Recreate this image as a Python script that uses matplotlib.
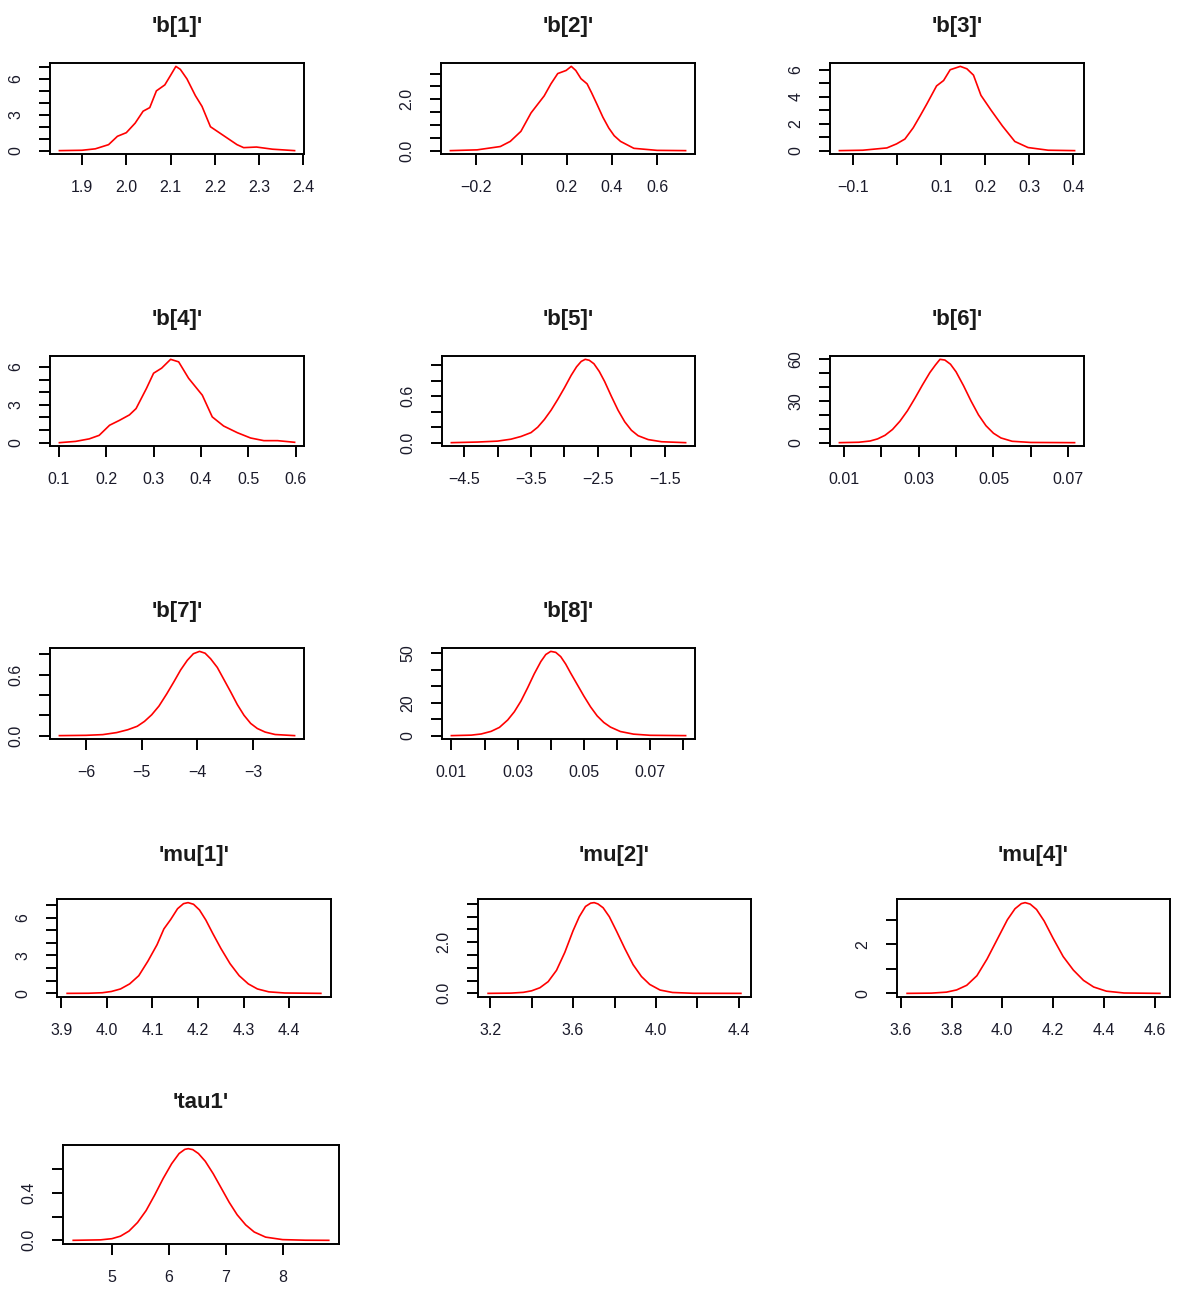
import matplotlib.pyplot as plt
from matplotlib.ticker import FixedLocator, FixedFormatter

plt.rcParams['font.family'] = ['Liberation Sans', 'DejaVu Sans']

M = '\u2212'  # minus sign used on the axis labels

# posterior density curves (x, y)
b1_x = [1.849, 1.90, 1.93, 1.96, 1.98, 2.00, 2.02, 2.038, 2.053, 2.068, 2.087, 2.10, 2.112,
        2.122, 2.137, 2.156, 2.171, 2.19, 2.21, 2.23, 2.25, 2.265, 2.294, 2.33, 2.38]
b1_y = [0.0, 0.03, 0.15, 0.5, 1.2, 1.5, 2.3, 3.3, 3.6, 5.0, 5.5, 6.3, 7.05,
        6.8, 6.0, 4.6, 3.7, 2.0, 1.5, 1.0, 0.5, 0.25, 0.3, 0.12, 0.0]

b2_x = [-0.315, -0.197, -0.094, -0.05, -0.003, 0.042, 0.10, 0.13, 0.16, 0.197, 0.22, 0.24,
        0.263, 0.29, 0.31, 0.334, 0.36, 0.386, 0.41, 0.438, 0.497, 0.6, 0.726]
b2_y = [0.0, 0.03, 0.16, 0.36, 0.75, 1.47, 2.13, 2.6, 3.0, 3.12, 3.28, 3.12,
        2.8, 2.6, 2.25, 1.8, 1.3, 0.88, 0.58, 0.36, 0.09, 0.01, 0.0]

b3_x = [-0.132, -0.079, -0.024, -0.002, 0.017, 0.036, 0.052, 0.067, 0.089, 0.105, 0.12, 0.143,
        0.158, 0.173, 0.19, 0.213, 0.239, 0.267, 0.297, 0.343, 0.403]
b3_y = [0.0, 0.03, 0.2, 0.5, 0.86, 1.7, 2.6, 3.47, 4.8, 5.2, 6.0, 6.25,
        6.07, 5.6, 4.1, 3.0, 1.82, 0.68, 0.23, 0.03, 0.0]

b4_x = [0.101, 0.135, 0.164, 0.185, 0.207, 0.228, 0.249, 0.263, 0.285, 0.30, 0.317, 0.336,
        0.353, 0.374, 0.403, 0.424, 0.448, 0.477, 0.505, 0.533, 0.562, 0.598]
b4_y = [0.0, 0.1, 0.3, 0.58, 1.38, 1.77, 2.2, 2.7, 4.3, 5.5, 5.9, 6.6,
        6.4, 5.1, 3.76, 2.04, 1.32, 0.79, 0.37, 0.16, 0.16, 0.03]

b5_x = [-4.69, -4.3, -4.0, -3.8, -3.65, -3.5, -3.4, -3.3, -3.2, -3.1, -3.0, -2.9, -2.82,
        -2.75, -2.69, -2.63, -2.56, -2.48, -2.4, -2.3, -2.2, -2.1, -2.0, -1.9, -1.75,
        -1.55, -1.19]
b5_y = [0.0, 0.008, 0.02, 0.045, 0.08, 0.13, 0.2, 0.3, 0.42, 0.56, 0.71, 0.87, 0.98,
        1.05, 1.077, 1.065, 1.02, 0.92, 0.79, 0.6, 0.42, 0.27, 0.16, 0.09, 0.04,
        0.012, 0.0]

b6_x = [0.0088, 0.014, 0.017, 0.019, 0.021, 0.023, 0.025, 0.027, 0.029, 0.031, 0.033,
        0.0345, 0.0357, 0.037, 0.0385, 0.040, 0.042, 0.044, 0.046, 0.048, 0.050, 0.052,
        0.055, 0.060, 0.0717]
b6_y = [0.0, 0.3, 1.2, 2.7, 5.3, 9.5, 15.5, 23.0, 32.0, 41.5, 50.5,
        56.0, 60.0, 59.5, 56.5, 51.0, 41.0, 30.0, 20.0, 12.2, 6.8, 3.4,
        1.0, 0.15, 0.0]

b7_x = [-6.48, -6.0, -5.7, -5.45, -5.25, -5.08, -4.95, -4.82, -4.69, -4.55, -4.42, -4.3,
        -4.18, -4.07, -3.96, -3.86, -3.76, -3.64, -3.52, -3.40, -3.28, -3.16, -3.04,
        -2.92, -2.78, -2.6, -2.25]
b7_y = [0.0, 0.003, 0.01, 0.03, 0.058, 0.092, 0.14, 0.205, 0.29, 0.41, 0.53, 0.645,
        0.74, 0.805, 0.828, 0.81, 0.755, 0.67, 0.55, 0.43, 0.305, 0.2, 0.12,
        0.07, 0.035, 0.011, 0.0]

b8_x = [0.010, 0.016, 0.019, 0.022, 0.0245, 0.027, 0.029, 0.031, 0.033, 0.035, 0.037,
        0.0385, 0.040, 0.0415, 0.043, 0.0445, 0.046, 0.048, 0.050, 0.052, 0.054, 0.056,
        0.058, 0.061, 0.065, 0.070, 0.0807]
b8_y = [0.0, 0.3, 1.0, 2.6, 5.0, 9.5, 14.5, 21.0, 29.0, 37.5, 45.0,
        49.3, 51.2, 50.6, 48.0, 43.5, 38.0, 31.0, 24.0, 17.5, 12.0, 8.0,
        5.2, 2.5, 0.9, 0.2, 0.0]

mu1_x = [3.913, 3.96, 3.99, 4.01, 4.03, 4.05, 4.07, 4.09, 4.11, 4.125, 4.14, 4.155, 4.168,
         4.178, 4.19, 4.203, 4.217, 4.232, 4.25, 4.27, 4.29, 4.31, 4.33, 4.355, 4.39, 4.469]
mu1_y = [0.0, 0.01, 0.05, 0.15, 0.35, 0.75, 1.4, 2.55, 3.85, 5.1, 5.85, 6.7, 7.1,
         7.18, 7.05, 6.6, 5.8, 4.75, 3.55, 2.35, 1.4, 0.75, 0.35, 0.12, 0.03, 0.0]

mu2_x = [3.19, 3.30, 3.36, 3.40, 3.44, 3.48, 3.52, 3.56, 3.60, 3.63, 3.66, 3.685, 3.702,
         3.72, 3.745, 3.775, 3.81, 3.85, 3.89, 3.93, 3.97, 4.02, 4.08, 4.18, 4.41]
mu2_y = [0.0, 0.01, 0.04, 0.1, 0.22, 0.46, 0.9, 1.6, 2.45, 3.0, 3.4, 3.53, 3.55,
         3.5, 3.35, 3.0, 2.43, 1.75, 1.12, 0.66, 0.35, 0.13, 0.035, 0.003, 0.0]

mu4_x = [3.625, 3.72, 3.78, 3.82, 3.86, 3.90, 3.94, 3.98, 4.02, 4.05, 4.075, 4.09, 4.11,
         4.135, 4.165, 4.20, 4.24, 4.28, 4.32, 4.36, 4.41, 4.48, 4.621]
mu4_y = [0.0, 0.01, 0.05, 0.14, 0.33, 0.72, 1.4, 2.2, 3.0, 3.45, 3.66, 3.7, 3.64,
         3.42, 2.95, 2.25, 1.5, 0.95, 0.53, 0.26, 0.09, 0.015, 0.0]

tau1_x = [4.32, 4.8, 5.0, 5.15, 5.3, 5.45, 5.6, 5.75, 5.9, 6.05, 6.18, 6.28, 6.34, 6.42,
          6.52, 6.64, 6.78, 6.92, 7.06, 7.2, 7.35, 7.5, 7.7, 8.0, 8.4, 8.81]
tau1_y = [0.0, 0.004, 0.014, 0.035, 0.078, 0.15, 0.25, 0.38, 0.52, 0.645, 0.73, 0.765,
          0.771, 0.763, 0.73, 0.665, 0.56, 0.44, 0.32, 0.215, 0.13, 0.07, 0.027, 0.006,
          0.001, 0.0]

# tick positions and the labels printed at them ('' = tick without label)
b1_xt = [1.9, 2.0, 2.1, 2.2, 2.3, 2.4]
b1_xl = ['1.9', '2.0', '2.1', '2.2', '2.3', '2.4']
b1_yt = [0, 1, 2, 3, 4, 5, 6, 7]
b1_yl = ['0', '', '', '3', '', '', '6', '']

b2_xt = [-0.2, 0.0, 0.2, 0.4, 0.6]
b2_xl = [M + '0.2', '', '0.2', '0.4', '0.6']
b2_yt = [0.0, 0.5, 1.0, 1.5, 2.0, 2.5, 3.0]
b2_yl = ['0.0', '', '', '', '2.0', '', '']

b3_xt = [-0.1, 0.0, 0.1, 0.2, 0.3, 0.4]
b3_xl = [M + '0.1', '', '0.1', '0.2', '0.3', '0.4']
b3_yt = [0, 1, 2, 3, 4, 5, 6]
b3_yl = ['0', '', '2', '', '4', '', '6']

b4_xt = [0.1, 0.2, 0.3, 0.4, 0.5, 0.6]
b4_xl = ['0.1', '0.2', '0.3', '0.4', '0.5', '0.6']
b4_yt = [0, 1, 2, 3, 4, 5, 6, 7]
b4_yl = ['0', '', '', '3', '', '', '6', '']

b5_xt = [-4.5, -4.0, -3.5, -3.0, -2.5, -2.0, -1.5]
b5_xl = [M + '4.5', '', M + '3.5', '', M + '2.5', '', M + '1.5']
b5_yt = [0.0, 0.2, 0.4, 0.6, 0.8, 1.0]
b5_yl = ['0.0', '', '', '0.6', '', '']

b6_xt = [0.01, 0.02, 0.03, 0.04, 0.05, 0.06, 0.07]
b6_xl = ['0.01', '', '0.03', '', '0.05', '', '0.07']
b6_yt = [0, 10, 20, 30, 40, 50, 60]
b6_yl = ['0', '', '', '30', '', '', '60']

b7_xt = [-6, -5, -4, -3]
b7_xl = [M + '6', M + '5', M + '4', M + '3']
b7_yt = [0.0, 0.2, 0.4, 0.6, 0.8]
b7_yl = ['0.0', '', '', '0.6', '']

b8_xt = [0.01, 0.02, 0.03, 0.04, 0.05, 0.06, 0.07, 0.08]
b8_xl = ['0.01', '', '0.03', '', '0.05', '', '0.07', '']
b8_yt = [0, 10, 20, 30, 40, 50]
b8_yl = ['0', '', '20', '', '', '50']

mu1_xt = [3.9, 4.0, 4.1, 4.2, 4.3, 4.4]
mu1_xl = ['3.9', '4.0', '4.1', '4.2', '4.3', '4.4']
mu1_yt = [0, 1, 2, 3, 4, 5, 6, 7]
mu1_yl = ['0', '', '', '3', '', '', '6', '']

mu2_xt = [3.2, 3.4, 3.6, 3.8, 4.0, 4.2, 4.4]
mu2_xl = ['3.2', '', '3.6', '', '4.0', '', '4.4']
mu2_yt = [0.0, 0.5, 1.0, 1.5, 2.0, 2.5, 3.0, 3.5]
mu2_yl = ['0.0', '', '', '', '2.0', '', '', '']

mu4_xt = [3.6, 3.8, 4.0, 4.2, 4.4, 4.6]
mu4_xl = ['3.6', '3.8', '4.0', '4.2', '4.4', '4.6']
mu4_yt = [0, 1, 2, 3]
mu4_yl = ['0', '', '2', '']

tau1_xt = [5, 6, 7, 8]
tau1_xl = ['5', '6', '7', '8']
tau1_yt = [0.0, 0.2, 0.4, 0.6]
tau1_yl = ['0.0', '', '0.4', '']

# name, curve, ticks, box in pixels (left, top, right, bottom), title gap
panels = [
    ("'b[1]'", b1_x, b1_y, b1_xt, b1_xl, b1_yt, b1_yl, (50, 63, 304, 154), 22),
    ("'b[2]'", b2_x, b2_y, b2_xt, b2_xl, b2_yt, b2_yl, (441, 63, 695, 154), 22),
    ("'b[3]'", b3_x, b3_y, b3_xt, b3_xl, b3_yt, b3_yl, (830, 63, 1084, 154), 22),
    ("'b[4]'", b4_x, b4_y, b4_xt, b4_xl, b4_yt, b4_yl, (50, 356, 304, 446), 22),
    ("'b[5]'", b5_x, b5_y, b5_xt, b5_xl, b5_yt, b5_yl, (442, 356, 695, 446), 22),
    ("'b[6]'", b6_x, b6_y, b6_xt, b6_xl, b6_yt, b6_yl, (830, 356, 1084, 446), 22),
    ("'b[7]'", b7_x, b7_y, b7_xt, b7_xl, b7_yt, b7_yl, (50, 648, 304, 739), 22),
    ("'b[8]'", b8_x, b8_y, b8_xt, b8_xl, b8_yt, b8_yl, (442, 648, 695, 739), 22),
    ("'mu[1]'", mu1_x, mu1_y, mu1_xt, mu1_xl, mu1_yt, mu1_yl, (57, 899, 331, 997), 27),
    ("'mu[2]'", mu2_x, mu2_y, mu2_xt, mu2_xl, mu2_yt, mu2_yl, (478, 899, 751, 997), 27),
    ("'mu[4]'", mu4_x, mu4_y, mu4_xt, mu4_xl, mu4_yt, mu4_yl, (897, 899, 1170, 997), 27),
    ("'tau1'", tau1_x, tau1_y, tau1_xt, tau1_xl, tau1_yt, tau1_yl, (63, 1145, 339, 1244), 27),
]

W, H = 1183, 1291
fig = plt.figure(figsize=(W / 100, H / 100), dpi=100)

for name, x, y, xt, xl, yt, yl, box, gap in panels:
    l, t, r, b = box
    ax = fig.add_axes([l / W, 1 - b / H, (r - l) / W, (b - t) / H])
    ax.plot(x, y, color='#ff0000', lw=1.2)
    ax.margins(0.04)
    ax.xaxis.set_major_locator(FixedLocator(xt))
    ax.xaxis.set_major_formatter(FixedFormatter(xl))
    ax.yaxis.set_major_locator(FixedLocator(yt))
    ax.yaxis.set_major_formatter(FixedFormatter(yl))
    for s in ax.spines.values():
        s.set_linewidth(1.4)
    ax.tick_params(direction='out', length=8, width=1.4, labelsize=11.5, pad=11,
                   labelcolor='#1a1a2a')
    for lab in ax.get_yticklabels():
        lab.set_rotation(90)
        lab.set_va('center')
    ax.set_title(name, fontsize=16, fontweight='bold', pad=gap, color='#1a1a1a')

fig.savefig('out.png', dpi=100)
